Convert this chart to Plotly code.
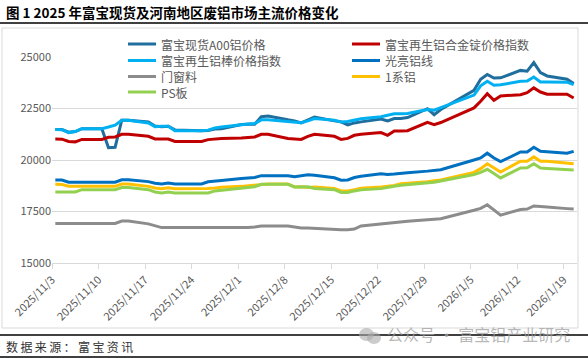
import plotly.graph_objects as go
import pandas as pd

dates = ["2025-11-03","2025-11-04","2025-11-05","2025-11-06","2025-11-07",
         "2025-11-10","2025-11-11","2025-11-12","2025-11-13","2025-11-14",
         "2025-11-17","2025-11-18","2025-11-19","2025-11-20","2025-11-21",
         "2025-11-24","2025-11-25","2025-11-26","2025-11-27","2025-11-28",
         "2025-12-01","2025-12-02","2025-12-03","2025-12-04","2025-12-05",
         "2025-12-08","2025-12-09","2025-12-10","2025-12-11","2025-12-12",
         "2025-12-15","2025-12-16","2025-12-17","2025-12-18","2025-12-19",
         "2025-12-22","2025-12-23","2025-12-24","2025-12-25","2025-12-26",
         "2025-12-29","2025-12-30","2025-12-31",
         "2026-01-05","2026-01-06","2026-01-07","2026-01-08","2026-01-09",
         "2026-01-12","2026-01-13","2026-01-14","2026-01-15","2026-01-16",
         "2026-01-19","2026-01-20"]

a00 = [21480,21480,21350,21380,21520, 21520,20600,20620,21930,21930,
       21850,21650,21620,21640,21460, 21420,21420,21430,21500,21520,
       21720,21740,21740,22100,22130, 21950,21900,21800,21950,22090,
       21900,21850,21700,21800,21850, 21990,21900,22010,22010,22060,
       22490,22200,22450,
       23380,23920,24150,23980,23990, 24350,24310,24730,24240,24080,
       23920,23710]
alloy = [21020,21010,20900,20880,21000, 21000,21100,21120,21250,21250,
         21150,21020,21020,21020,20900, 20880,20900,20990,21020,21040,
         21070,21100,21120,21250,21250, 21040,21010,21000,21150,21250,
         21150,21000,21050,21200,21250, 21330,21200,21410,21410,21420,
         21830,21720,21820,
         22530,22850,23220,22900,23110, 23170,23270,23500,23300,23190,
         23190,23010]
rod = [21480,21470,21330,21380,21520, 21520,21600,21690,21930,21930,
       21800,21620,21640,21640,21420, 21410,21420,21450,21550,21600,
       21730,21750,21770,21950,21950, 21850,21830,21810,21900,22010,
       21930,21850,21870,21950,22000, 22100,22170,22240,22250,22260,
       22450,22420,22540,
       23150,23600,23820,23630,23650, 23820,23830,24030,23790,23790,
       23780,23660]
wire = [19030,19030,18920,18920,18920, 18920,18920,18920,19040,19040,
        18950,18870,18830,18880,18830, 18830,18840,18940,18960,19000,
        19100,19140,19150,19240,19240, 19240,19190,19240,19280,19260,
        19140,19020,19030,19150,19210, 19330,19300,19320,19360,19380,
        19460,19480,19530,
        20000,20100,20330,20100,19920, 20390,20390,20620,20420,20400,
        20330,20420]
window = [16920,16920,16920,16920,16920, 16920,16920,16920,17040,17040,
          16900,16800,16720,16720,16720, 16700,16700,16700,16700,16700,
          16720,16720,16750,16800,16800, 16800,16750,16700,16700,16680,
          16620,16620,16620,16650,16800, 16900,16950,16980,17000,17030,
          17100,17120,17150,
          17560,17650,17830,17560,17320, 17600,17620,17770,17730,17720,
          17640,17620]
series1 = [18820,18810,18730,18720,18720, 18720,18720,18720,18830,18830,
           18720,18640,18600,18650,18600, 18600,18600,18620,18640,18680,
           18720,18750,18800,18830,18830, 18830,18690,18700,18660,18690,
           18620,18500,18500,18560,18630, 18690,18720,18760,18850,18870,
           18950,18990,19030,
           19400,19580,19820,19620,19420, 19940,19940,20150,19940,19940,
           19830,19820]
ps = [18450,18450,18450,18450,18560, 18560,18560,18560,18660,18660,
      18560,18450,18400,18450,18400, 18400,18400,18400,18500,18530,
      18610,18640,18700,18820,18820, 18820,18690,18680,18700,18620,
      18560,18420,18420,18500,18550, 18610,18680,18730,18770,18800,
      18860,18920,18980,
      19290,19400,19550,19340,19130, 19610,19620,19820,19610,19590,
      19540,19520]

names = ["富宝现货A00铝价格", "富宝再生铝合金锭价格指数", "富宝再生铝棒价格指数",
         "光亮铝线", "门窗料", "1系铝", "PS板"]
values = [a00, alloy, rod, wire, window, series1, ps]
colors = ["#1F6E9E", "#C00000", "#00B0F0", "#0070C0", "#8C8C8C", "#FFC000", "#92D050"]

title = "图 1 2025 年富宝现货及河南地区废铝市场主流价格变化"
source = "数据来源：富宝资讯"
watermark = "公众号 · 富宝铝产业研究"

W, H = 588, 358
L, R, T, B = 52, 11, 57, 95
pw, ph = W - L - R, H - T - B

def px(x):
    return (x - L) / pw

def py(y):
    return (H - B - y) / ph

x = pd.to_datetime(dates) + pd.Timedelta(hours=12)

fig = go.Figure()
for n, v, c in zip(names, values, colors):
    fig.add_trace(go.Scatter(x=x, y=v, name=n, mode="lines",
                             line=dict(color=c, width=3)))

fig.update_layout(
    width=W, height=H,
    margin=dict(l=L, r=R, t=T, b=B, pad=0, autoexpand=False),
    paper_bgcolor="white", plot_bgcolor="white",
    font=dict(family="Noto Sans CJK SC, sans-serif", color="#595959", size=11),
    showlegend=False,
    xaxis=dict(type="date", range=["2025-11-03", "2026-01-21"],
               tick0="2025-11-03", dtick=7 * 86400000, tickformat="%Y/%-m/%-d",
               tickangle=-45, showgrid=False, showline=True, linecolor="#D9D9D9",
               linewidth=1, ticks="outside", ticklen=5, tickcolor="#D9D9D9",
               tickfont=dict(size=11, color="#595959"), zeroline=False),
    yaxis=dict(range=[15000, 25000], dtick=2500, showgrid=True, gridcolor="#D9D9D9",
               gridwidth=1, showline=False, zeroline=False, ticks="",
               tickfont=dict(size=11, color="#595959"), tickformat="d"),
)

shapes = [
    dict(type="line", xref="paper", yref="paper", x0=px(0), x1=px(W), y0=py(23), y1=py(23),
         line=dict(color="black", width=1.5)),
    dict(type="rect", xref="paper", yref="paper", x0=px(2), x1=px(578), y0=py(28), y1=py(328),
         line=dict(color="#D9D9D9", width=1), fillcolor="rgba(0,0,0,0)", layer="below"),
    dict(type="line", xref="paper", yref="paper", x0=px(0), x1=px(W), y0=py(335), y1=py(335),
         line=dict(color="black", width=1.5)),
    dict(type="line", xref="paper", yref="paper", x0=px(0), x1=px(W), y0=py(357), y1=py(357),
         line=dict(color="black", width=1.5)),
    dict(type="circle", xref="paper", yref="paper", x0=px(359), x1=px(374), y0=py(341), y1=py(328),
         line=dict(width=0), fillcolor="rgba(170,170,170,0.6)"),
    dict(type="circle", xref="paper", yref="paper", x0=px(367), x1=px(381), y0=py(344), y1=py(332),
         line=dict(width=0), fillcolor="rgba(170,170,170,0.6)"),
]

# manual two-column legend
leg_cols = [128, 352]
leg_rows = [44, 60.5, 76.5, 92]
for i, (n, c) in enumerate(zip(names, colors)):
    lx = leg_cols[i % 2]
    ly = leg_rows[i // 2]
    shapes.append(dict(type="line", xref="paper", yref="paper",
                       x0=px(lx), x1=px(lx + 28), y0=py(ly), y1=py(ly),
                       line=dict(color=c, width=3)))
    fig.add_annotation(text=n, xref="paper", yref="paper", x=px(lx + 31), y=py(ly),
                       xanchor="left", yanchor="middle", showarrow=False,
                       font=dict(size=12, color="#595959"))

fig.update_layout(shapes=shapes)

fig.add_annotation(text="<b>" + title + "</b>", xref="paper", yref="paper",
                   x=px(4), y=py(12), xanchor="left", yanchor="middle", showarrow=False,
                   font=dict(size=13.5, color="black", family="Noto Sans CJK SC, sans-serif"))
fig.add_annotation(text="\u2009".join(source), xref="paper", yref="paper",
                   x=px(4), y=py(346), xanchor="left", yanchor="middle", showarrow=False,
                   font=dict(size=12, color="#333333", family="Noto Sans CJK SC, sans-serif"))
fig.add_annotation(text=watermark, xref="paper", yref="paper",
                   x=px(385), y=py(334), xanchor="left", yanchor="middle", showarrow=False,
                   font=dict(size=16, color="rgba(160,160,160,0.75)",
                             family="Noto Sans CJK SC, sans-serif"))

fig.write_html("out.html", config={"displayModeBar": False},
               post_script="document.body.style.margin='0';document.body.style.overflow='hidden';")
